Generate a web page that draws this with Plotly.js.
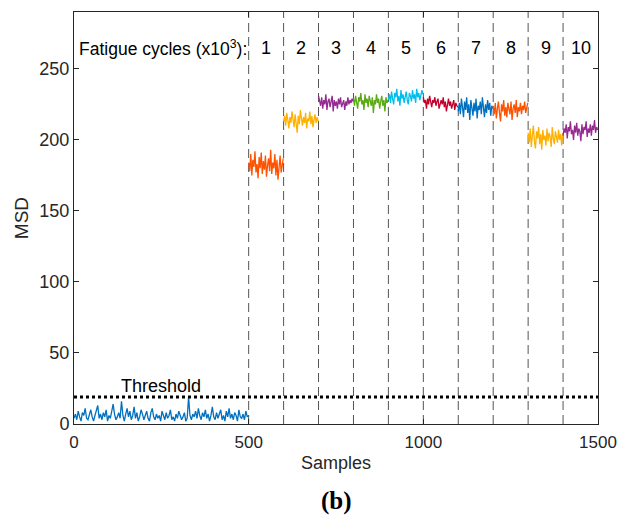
<!DOCTYPE html>
<html>
<head>
<meta charset="utf-8">
<script src="https://cdn.plot.ly/plotly-3.0.1.min.js"></script>
<style>html,body{margin:0;padding:0;background:#fff;}#chart{width:617px;height:516px;}</style>
</head>
<body>
<div id="chart"></div>
<script>
// Baseline (healthy) MSD, samples 0..500 every 4 samples
const baseline = [
4,7,3,9,5,2,8,6,11,4,3,7,10,5,2,6,9,13,4,7,3,8,5,10,2,
6,4,9,14,7,3,5,8,4,16,6,2,7,11,5,9,3,6,12,4,8,2,5,10,7,
3,6,9,4,2,8,11,5,3,7,4,6,2,9,5,3,8,4,6,10,3,5,2,7,4,
9,6,3,5,8,2,4,19,6,3,7,5,9,4,11,6,3,8,5,10,4,7,2,6,12,
5,3,8,4,7,10,3,6,2,9,5,11,4,7,3,8,6,2,10,5,4,7,3,9,5,6];

// Fatigue segments, each 100 samples, every 3 samples
const seg1 = [184,178,190,175,186,181,192,177,183,173,188,180,191,176,185,179,189,174,182,187,178,193,176,184,180,190,175,186,172,183,189,177,181,187];
const seg2 = [213,217,210,219,214,208,216,212,220,215,209,218,213,205,217,211,221,214,210,216,212,219,208,215,213,220,211,217,209,214,218,212,216,213];
const seg3 = [231,227,224,230,222,228,225,232,221,227,229,223,226,231,220,228,224,227,222,229,225,230,223,226,228,221,227,224,230,225,228,226,229,227];
const seg4 = [229,224,231,226,222,230,227,233,225,228,221,232,226,229,223,231,227,224,230,219,228,225,232,226,229,222,227,231,224,228,220,230,226,228];
const seg5 = [228,232,226,234,229,225,233,230,236,227,231,224,235,229,232,226,230,234,228,225,233,231,227,235,229,232,226,236,230,233,228,231,235,232];
const seg6 = [230,226,228,222,229,225,231,227,223,228,226,230,224,227,229,222,226,228,225,230,223,227,220,226,229,224,227,222,225,228,221,226,224,223];
const seg7 = [220,226,218,229,223,216,227,221,230,219,225,214,228,222,217,226,220,229,215,224,221,227,218,230,222,216,225,219,228,221,226,217,224,222];
const seg8 = [224,218,226,215,222,227,219,213,225,220,228,217,223,216,226,221,218,227,214,222,225,219,228,216,223,220,226,218,224,221,227,219,222,226];
const seg9 = [205,198,208,195,203,210,199,194,206,201,209,197,204,193,207,200,203,196,208,199,205,202,195,209,201,197,206,203,198,207,200,204,196,205];
const seg10 = [203,208,205,211,201,209,206,213,204,207,200,210,205,212,203,208,206,199,211,204,209,207,213,202,208,205,211,203,210,207,214,205,209,207];

const segments = [seg1,seg2,seg3,seg4,seg5,seg6,seg7,seg8,seg9,seg10];
const segStarts = [500,600,700,800,900,1000,1100,1200,1300,1400];
const segLabels = ['1','2','3','4','5','6','7','8','9','10'];
const segColors = ['#FF5200','#FFB000','#952A91','#5AAA14','#00BEEE','#C3002B','#0070C0','#FF5200','#FFB000','#952A91'];
const boundaries = [500,600,700,800,900,1000,1100,1200,1300,1400];
const threshold = 19;

const traces = [];
traces.push({
  x: baseline.map((v,i)=>i*4), y: baseline, type:'scatter', mode:'lines',
  line:{color:'#0070C0', width:1.3}, hoverinfo:'skip', showlegend:false
});
segments.forEach((s,k)=>{
  const step = 99/(s.length-1);
  traces.push({
    x: s.map((v,i)=>segStarts[k]+i*step), y: s, type:'scatter', mode:'lines',
    line:{color:segColors[k], width:1.3}, showlegend:false
  });
});

const shapes = boundaries.map(b=>({
  type:'line', xref:'x', yref:'paper', x0:b, x1:b, y0:0, y1:1,
  line:{color:'#555555', width:1, dash:'9px,5px'}, layer:'below'
}));
shapes.push({type:'line', xref:'paper', yref:'y', x0:0, x1:1, y0:threshold, y1:threshold,
  line:{color:'#000000', width:3, dash:'3px,3px'}});

const fam = 'Liberation Sans, Arial, sans-serif';
const annotations = [
  {xref:'paper', yref:'y', x:0.005, y:265, xanchor:'left', yanchor:'middle', showarrow:false,
   text:'Fatigue cycles (x10<sup>3</sup>):', font:{family:fam, size:17.5, color:'#000'}},
  {xref:'x', yref:'y', x:250, y:26.5, xanchor:'center', yanchor:'middle', showarrow:false,
   text:'Threshold', font:{family:fam, size:18, color:'#000'}},
  {xref:'paper', yref:'paper', x:0.5, y:-0.187, xanchor:'center', yanchor:'middle', showarrow:false,
   text:'<b>(b)</b>', font:{family:'Liberation Serif, Times New Roman, serif', size:25, color:'#000'}}
];
segLabels.forEach((t,k)=>annotations.push({
  xref:'x', yref:'y', x:segStarts[k]+50, y:265, xanchor:'center', yanchor:'middle', showarrow:false,
  text:t, font:{family:fam, size:18, color:'#000'}
}));

const layout = {
  width:617, height:516,
  margin:{l:74, r:19, t:12, b:92},
  paper_bgcolor:'#fff', plot_bgcolor:'#fff',
  font:{family:fam, size:18, color:'#262626'},
  xaxis:{range:[0,1500], tickvals:[0,500,1000,1500], ticks:'inside', ticklen:5, tickcolor:'#262626',
    showline:true, linecolor:'#262626', linewidth:1, mirror:'ticks', showgrid:false, zeroline:false,
    ticklabelstandoff:3,
    title:{text:'Samples', font:{family:fam, size:18, color:'#262626'}, standoff:4},
    tickfont:{family:fam, size:17, color:'#262626'}},
  yaxis:{range:[0,290], tickvals:[0,50,100,150,200,250], ticks:'inside', ticklen:5, tickcolor:'#262626',
    showline:true, linecolor:'#262626', linewidth:1, mirror:'ticks', showgrid:false, zeroline:false,
    title:{text:'MSD', font:{family:fam, size:19, color:'#262626'}, standoff:5},
    tickfont:{family:fam, size:18, color:'#262626'}},
  shapes: shapes,
  annotations: annotations,
  showlegend:false
};
Plotly.newPlot('chart', traces, layout, {staticPlot:true, displayModeBar:false});
</script>
</body>
</html>
